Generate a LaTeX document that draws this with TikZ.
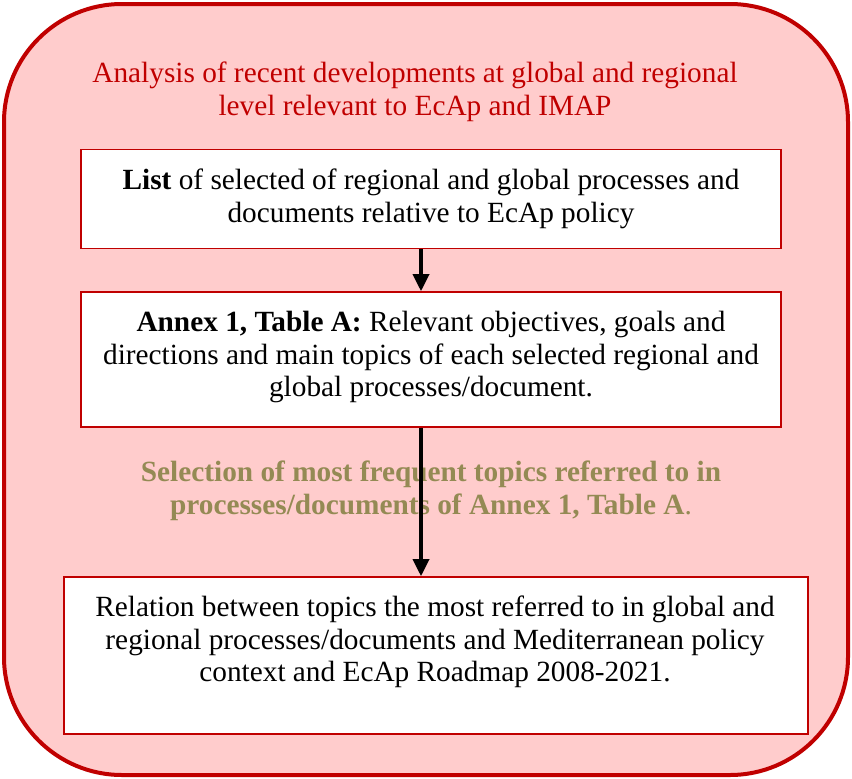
\documentclass[tikz,border=0pt]{standalone}
\usepackage{fontspec}
\setmainfont{Liberation Serif}
\usetikzlibrary{arrows.meta}
\definecolor{outerfill}{HTML}{FFCCCC}
\definecolor{darkred}{HTML}{C00000}
\definecolor{olive}{HTML}{948A54}
\tikzset{
  outerbox/.style={draw=darkred, fill=outerfill, line width=4pt, rounded corners=118pt},
  whitebox/.style={draw=darkred, fill=white, line width=1.6pt, rectangle, inner sep=0pt},
  txt/.style={align=center, inner sep=0pt, font=\fontsize{29.3}{32.5}\selectfont},
  arr/.style={line width=3.5pt, -{Triangle[length=17pt, width=16pt]}}
}
\begin{document}
\begin{tikzpicture}[x=1pt, y=-1pt]
\useasboundingbox (0,0) rectangle (852,779);
\draw[outerbox] (4,4) rectangle (848,775);
\node[txt, text=darkred] (title) at (415,92) {Analysis of recent developments at global and regional\\level relevant to EcAp and IMAP};
\node[whitebox, minimum width=700pt, minimum height=99pt] (b1) at (431,199) {};
\node[txt] (t1) at (431,199) {\textbf{List} of selected of regional and global processes and\\documents relative to EcAp policy};
\node[whitebox, minimum width=700pt, minimum height=135pt] (b2) at (431,359.5) {};
\node[txt] (t2) at (431,357) {\textbf{Annex 1, Table A:} Relevant objectives, goals and\\directions and main topics of each selected regional and\\global processes/document.};
\node[txt, text=olive] (sel) at (431,491) {\textbf{Selection of most frequent topics referred to in}\\\textbf{processes/documents of Annex 1, Table A}.};
\node[whitebox, minimum width=744pt, minimum height=157pt] (b3) at (436,655.5) {};
\node[txt] (t3) at (435,642) {Relation between topics the most referred to in global and\\regional processes/documents and Mediterranean policy\\context and EcAp Roadmap 2008-2021.};
\coordinate (ax) at (421,0);
\draw[arr] (b1.south -| ax) -- (b2.north -| ax);
\draw[arr] (b2.south -| ax) -- (b3.north -| ax);
\end{tikzpicture}
\end{document}
